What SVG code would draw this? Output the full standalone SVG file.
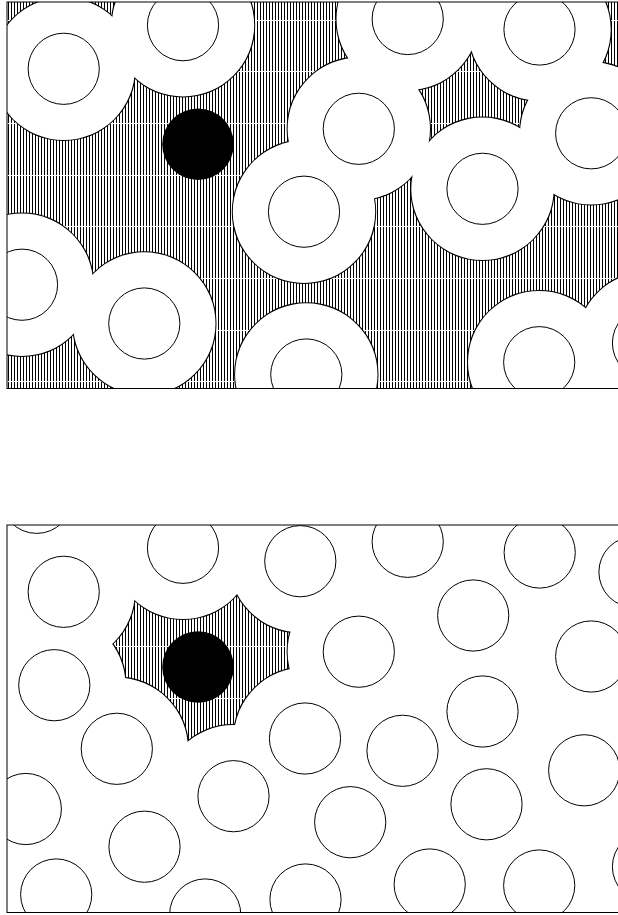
<svg xmlns="http://www.w3.org/2000/svg" width="618" height="915" viewBox="0 0 618 915">
<style>
.obst{fill:#fff;stroke:#000;stroke-width:1}
.zline{fill:#fff;stroke:#000;stroke-width:2}
.zone{fill:#fff;stroke:none}
.frame{fill:none;stroke:#000;stroke-width:1}
.token{fill:#000}
.gap{stroke:#fff;stroke-width:1}
</style>
<defs>
<pattern id="hatch" patternUnits="userSpaceOnUse" x="7" y="0" width="3" height="10">
<rect width="3" height="10" fill="#fff"/>
<rect x="1" y="0" width="1" height="10" fill="#000"/>
</pattern>
<clipPath id="clipTop"><rect x="7" y="2" width="620" height="386.5"/></clipPath>
<clipPath id="clipBot"><rect x="7" y="525" width="620" height="387.5"/></clipPath>
<clipPath id="clipFree"><polygon points="132.9,595.4 237.4,589.1 294.4,628.5 293.5,673 240.4,729.7 184.5,747.5 121.7,682.4 107.3,642.8"/></clipPath>
</defs>

<g id="top-panel" clip-path="url(#clipTop)">
<rect x="7" y="2" width="620" height="386.5" fill="url(#hatch)"/>
<g id="top-hatch-gaps" class="gap">
<line x1="7" y1="20.5" x2="618" y2="20.5"/>
<line x1="7" y1="71.5" x2="618" y2="71.5"/>
<line x1="7" y1="123.5" x2="618" y2="123.5"/>
<line x1="7" y1="175.5" x2="618" y2="175.5"/>
<line x1="7" y1="226.5" x2="618" y2="226.5"/>
<line x1="7" y1="278.5" x2="618" y2="278.5"/>
<line x1="7" y1="330.5" x2="618" y2="330.5"/>
<line x1="7" y1="381.5" x2="618" y2="381.5"/>
</g>
<g id="top-zone-outlines" class="zline">
<circle cx="63.7" cy="68.8" r="71.2"/>
<circle cx="183" cy="25.2" r="71.2"/>
<circle cx="407.7" cy="19" r="71.2"/>
<circle cx="539.5" cy="29.5" r="71.2"/>
<circle cx="358.8" cy="128.8" r="71.2"/>
<circle cx="591.2" cy="133.3" r="71.2"/>
<circle cx="482.5" cy="188.8" r="71.2"/>
<circle cx="304" cy="211.7" r="71.2"/>
<circle cx="22" cy="284.7" r="71.2"/>
<circle cx="144.3" cy="323.5" r="71.2"/>
<circle cx="306.3" cy="374.5" r="71.2"/>
<circle cx="539.2" cy="362.2" r="71.2"/>
<circle cx="648" cy="343" r="71.2"/>
</g>
<g id="top-zone-fills" class="zone">
<circle cx="63.7" cy="68.8" r="71.2"/>
<circle cx="183" cy="25.2" r="71.2"/>
<circle cx="407.7" cy="19" r="71.2"/>
<circle cx="539.5" cy="29.5" r="71.2"/>
<circle cx="358.8" cy="128.8" r="71.2"/>
<circle cx="591.2" cy="133.3" r="71.2"/>
<circle cx="482.5" cy="188.8" r="71.2"/>
<circle cx="304" cy="211.7" r="71.2"/>
<circle cx="22" cy="284.7" r="71.2"/>
<circle cx="144.3" cy="323.5" r="71.2"/>
<circle cx="306.3" cy="374.5" r="71.2"/>
<circle cx="539.2" cy="362.2" r="71.2"/>
<circle cx="648" cy="343" r="71.2"/>
</g>
<g id="top-obstacles" class="obst">
<circle cx="63.7" cy="68.8" r="35.6"/>
<circle cx="183" cy="25.2" r="35.6"/>
<circle cx="407.7" cy="19" r="35.6"/>
<circle cx="539.5" cy="29.5" r="35.6"/>
<circle cx="358.8" cy="128.8" r="35.6"/>
<circle cx="591.2" cy="133.3" r="35.6"/>
<circle cx="482.5" cy="188.8" r="35.6"/>
<circle cx="304" cy="211.7" r="35.6"/>
<circle cx="22" cy="284.7" r="35.6"/>
<circle cx="144.3" cy="323.5" r="35.6"/>
<circle cx="306.3" cy="374.5" r="35.6"/>
<circle cx="539.2" cy="362.2" r="35.6"/>
<circle cx="648" cy="343" r="35.6"/>
</g>
<circle id="top-token" class="token" cx="198" cy="144.2" r="35.8"/>
</g>
<rect id="top-frame" class="frame" x="7" y="2" width="620" height="386.5"/>

<g id="bottom-panel" clip-path="url(#clipBot)">
<g id="bottom-free-region" clip-path="url(#clipFree)">
<rect x="7" y="525" width="620" height="387.5" fill="url(#hatch)"/>
<g class="gap">
<line x1="7" y1="646.5" x2="618" y2="646.5"/>
<line x1="7" y1="698.5" x2="618" y2="698.5"/>
</g>
<g class="zline">
<circle cx="63.7" cy="591.8" r="71.2"/>
<circle cx="183" cy="547.8" r="71.2"/>
<circle cx="300.3" cy="561.2" r="71.2"/>
<circle cx="358.8" cy="651.7" r="71.2"/>
<circle cx="305" cy="738.5" r="71.2"/>
<circle cx="233.5" cy="796.2" r="71.2"/>
<circle cx="116.8" cy="748.8" r="71.2"/>
<circle cx="54.3" cy="685.2" r="71.2"/>
</g>
</g>
<g id="bottom-zone-cover" class="zone">
<circle cx="63.7" cy="591.8" r="71.2"/>
<circle cx="183" cy="547.8" r="71.2"/>
<circle cx="300.3" cy="561.2" r="71.2"/>
<circle cx="358.8" cy="651.7" r="71.2"/>
<circle cx="305" cy="738.5" r="71.2"/>
<circle cx="233.5" cy="796.2" r="71.2"/>
<circle cx="116.8" cy="748.8" r="71.2"/>
<circle cx="54.3" cy="685.2" r="71.2"/>
</g>
<g id="bottom-obstacles" class="obst">
<circle cx="36.7" cy="497.8" r="35.6"/>
<circle cx="63.7" cy="591.8" r="35.6"/>
<circle cx="183" cy="547.8" r="35.6"/>
<circle cx="300.3" cy="561.2" r="35.6"/>
<circle cx="407.7" cy="541.8" r="35.6"/>
<circle cx="539.7" cy="552.5" r="35.6"/>
<circle cx="634.5" cy="572" r="35.6"/>
<circle cx="54.3" cy="685.2" r="35.6"/>
<circle cx="473.2" cy="615.5" r="35.6"/>
<circle cx="358.8" cy="651.7" r="35.6"/>
<circle cx="591.2" cy="656.5" r="35.6"/>
<circle cx="482.5" cy="711.5" r="35.6"/>
<circle cx="116.8" cy="748.8" r="35.6"/>
<circle cx="305" cy="738.5" r="35.6"/>
<circle cx="402.5" cy="750.8" r="35.6"/>
<circle cx="233.5" cy="796.2" r="35.6"/>
<circle cx="25.8" cy="809" r="35.6"/>
<circle cx="144.5" cy="846.7" r="35.6"/>
<circle cx="350.2" cy="822.2" r="35.6"/>
<circle cx="486.5" cy="804.3" r="35.6"/>
<circle cx="584.2" cy="770.3" r="35.6"/>
<circle cx="56.2" cy="894.5" r="35.6"/>
<circle cx="205.2" cy="914.5" r="35.6"/>
<circle cx="305.5" cy="899.5" r="35.6"/>
<circle cx="429.7" cy="884.5" r="35.6"/>
<circle cx="539.2" cy="885.5" r="35.6"/>
<circle cx="648" cy="866.7" r="35.6"/>
</g>
<circle id="bottom-token" class="token" cx="198" cy="667" r="35.8"/>
</g>
<rect id="bottom-frame" class="frame" x="7" y="525" width="620" height="387.5"/>
</svg>
